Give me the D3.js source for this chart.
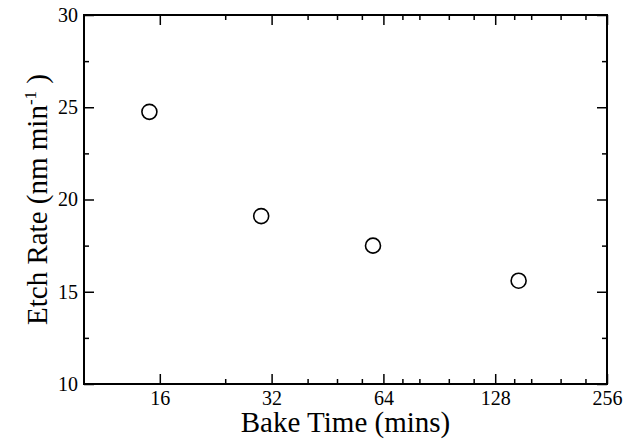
<!DOCTYPE html>
<html>
<head>
<meta charset="utf-8">
<script src="https://cdn.jsdelivr.net/npm/d3@7"></script>
<style>
  html, body { margin: 0; padding: 0; background: #fff; }
  svg { display: block; }
  text { font-family: "Liberation Serif", "Times New Roman", serif; fill: #000; }
</style>
</head>
<body>
<svg id="chart" width="634" height="439"></svg>
<script>
// data
var bakeTimes = [15, 30, 60, 148];
var etchRates = [24.75, 19.1, 17.5, 15.6];
var xMajorTicks = [16, 32, 64, 128, 256];
var xMinorTicks = [24, 40, 48, 56, 72, 80, 96, 112, 144, 160, 192, 224];
var yMajorTicks = [10, 15, 20, 25, 30];
var yMinorTicks = [12.5, 17.5, 22.5, 27.5];

var margin = {top: 15, right: 27, bottom: 55, left: 84};
var width = 634 - margin.left - margin.right,
    height = 439 - margin.top - margin.bottom;

var svg = d3.select("#chart");
var g = svg.append("g").attr("transform", "translate(" + margin.left + "," + margin.top + ")");

var x = d3.scaleLog().base(2).domain([10, 256]).range([0, width]);
var y = d3.scaleLinear().domain([10, 30]).range([height, 0]);

var fmt = function(d){ return d; };

// ticks point inwards on all four sides
function addAxis(axisFn, transform, ticks, size, labels) {
  var a = axisFn.tickValues(ticks).tickSizeInner(size).tickSizeOuter(0)
    .tickFormat(labels ? fmt : "").tickPadding(labels ? labels : 0);
  var sel = g.append("g").attr("transform", transform).call(a);
  sel.select(".domain").remove();
  sel.selectAll("line").attr("stroke", "#000").attr("stroke-width", 1.5);
  sel.selectAll("text").style("font-size", "20px").attr("fill", "#000")
    .style("font-family", "'Liberation Serif', 'Times New Roman', serif");
  return sel;
}

// bottom
addAxis(d3.axisBottom(x), "translate(0," + height + ")", xMajorTicks, -10, 7);
addAxis(d3.axisBottom(x), "translate(0," + height + ")", xMinorTicks, -5);
// top
addAxis(d3.axisTop(x), "translate(0,0)", xMajorTicks, -10);
addAxis(d3.axisTop(x), "translate(0,0)", xMinorTicks, -5);
// left
addAxis(d3.axisLeft(y), "translate(0,0)", yMajorTicks, -10, 6);
addAxis(d3.axisLeft(y), "translate(0,0)", yMinorTicks, -5);
// right
addAxis(d3.axisRight(y), "translate(" + width + ",0)", yMajorTicks, -10);
addAxis(d3.axisRight(y), "translate(" + width + ",0)", yMinorTicks, -5);

// frame
g.append("rect")
  .attr("x", 0).attr("y", 0)
  .attr("width", width).attr("height", height)
  .attr("fill", "none").attr("stroke", "#000").attr("stroke-width", 2);

// points
g.selectAll("circle.pt")
  .data(bakeTimes)
  .enter().append("circle")
  .attr("class", "pt")
  .attr("cx", function(d){ return x(d); })
  .attr("cy", function(d, i){ return y(etchRates[i]); })
  .attr("r", 7.5)
  .attr("fill", "none")
  .attr("stroke", "#000")
  .attr("stroke-width", 1.6);

// axis titles
svg.append("text")
  .attr("x", margin.left + width / 2)
  .attr("y", 432)
  .attr("text-anchor", "middle")
  .style("font-size", "29px")
  .text("Bake Time (mins)");

var yl = svg.append("text")
  .attr("transform", "translate(47," + (margin.top + height / 2) + ") rotate(-90)")
  .attr("text-anchor", "middle")
  .style("font-size", "29px");
yl.append("tspan").text("Etch Rate (nm min");
yl.append("tspan").attr("dy", -11).style("font-size", "17px").text("-1");
yl.append("tspan").attr("dy", 11).text(" )");
</script>
</body>
</html>
